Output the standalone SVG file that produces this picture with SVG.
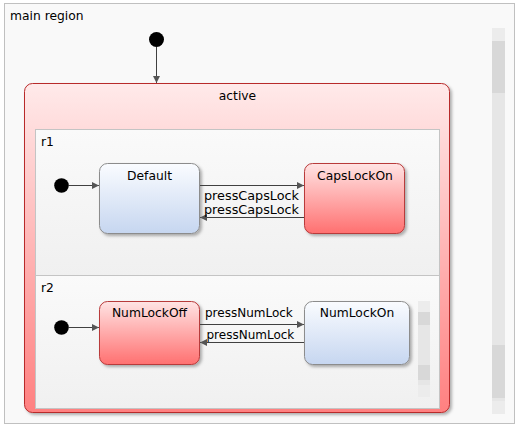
<svg xmlns="http://www.w3.org/2000/svg" width="519" height="428" viewBox="0 0 519 428">
<defs>
<style>
text{font-family:"DejaVu Sans","Liberation Sans",sans-serif;font-size:12.3px;fill:#000}
.c{text-anchor:middle}
.edge{stroke:#404040;stroke-width:1;fill:none}
.init{fill:#000}
.reg{fill:url(#gReg);stroke:#c4c4c4;stroke-width:1}
.red{fill:url(#gRed);stroke:#b83a3a;stroke-width:1}
.blue{fill:url(#gBlue);stroke:#8c8c8c;stroke-width:1}
.sbt{fill:#e6e6e6}
.sbd{fill:#d8d8d8}
.sbb{fill:#ececec}
.lbl{font-size:12px}
</style>
<linearGradient id="gRed" x1="0" y1="0" x2="0" y2="1">
<stop offset="0" stop-color="#ffe4e4"/>
<stop offset="1" stop-color="#ff7070"/>
</linearGradient>
<linearGradient id="gActive" x1="0" y1="0" x2="0" y2="1">
<stop offset="0" stop-color="#ffeaea"/>
<stop offset="1" stop-color="#ff8080"/>
</linearGradient>
<linearGradient id="gBlue" x1="0" y1="0" x2="0" y2="1">
<stop offset="0" stop-color="#fafcff"/>
<stop offset="1" stop-color="#c6d6f0"/>
</linearGradient>
<linearGradient id="gReg" x1="0" y1="0" x2="0" y2="1">
<stop offset="0" stop-color="#fafafa"/>
<stop offset="1" stop-color="#f0f0f0"/>
</linearGradient>
<filter id="sh" x="-10%" y="-10%" width="130%" height="130%">
<feDropShadow dx="2" dy="2" stdDeviation="1.5" flood-color="#000" flood-opacity="0.3"/>
</filter>
<marker id="arr" viewBox="0 0 10 10" refX="10" refY="5" markerWidth="8" markerHeight="7" markerUnits="userSpaceOnUse" orient="auto">
<path d="M0,0 L10,5 L0,10 z" fill="#555"/>
</marker>
</defs>
<rect width="519" height="428" fill="#fff"/>
<g id="main-region">
<rect x="4.5" y="3.5" width="510" height="420" fill="#f9f9f9" stroke="#c0c0c0"/>
<text x="10" y="20">main region</text>
<rect class="sbt" x="492" y="28" width="13" height="386"/>
<rect class="sbb" x="492" y="28" width="13" height="13"/>
<rect class="sbd" x="492" y="41" width="13" height="52"/>
<rect class="sbd" x="492" y="345" width="13" height="53"/>
<rect class="sbb" x="492" y="401" width="13" height="13"/>
</g>
<g id="active">
<rect x="24.5" y="83.5" width="425" height="329" rx="8" fill="url(#gActive)" stroke="#b82a2a" filter="url(#sh)"/>
<text class="c" x="237.5" y="100">active</text>
</g>
<g id="r1">
<rect class="reg" x="35.5" y="129.5" width="404" height="146"/>
<text x="41" y="146">r1</text>
</g>
<g id="r2">
<rect class="reg" x="35.5" y="275.5" width="404" height="133"/>
<text x="41" y="292">r2</text>
<rect class="sbt" x="418" y="301" width="12" height="96"/>
<rect class="sbb" x="418" y="301" width="12" height="11"/>
<rect class="sbd" x="418" y="312" width="12" height="13"/>
<rect class="sbd" x="418" y="365" width="12" height="15"/>
<rect class="sbb" x="418" y="385" width="12" height="12"/>
</g>
<g id="init-main"><circle class="init" cx="156.5" cy="39.5" r="7.5"/></g>
<g id="init-r1"><circle class="init" cx="61.5" cy="185.5" r="7.3"/></g>
<g id="init-r2"><circle class="init" cx="61.5" cy="327.5" r="7.3"/></g>
<g id="Default">
<rect class="blue" x="99.5" y="163.5" width="100" height="70" rx="8" filter="url(#sh)"/>
<text class="c" x="149.5" y="180">Default</text>
</g>
<g id="CapsLockOn">
<rect class="red" x="304.5" y="163.5" width="100" height="70" rx="8" filter="url(#sh)"/>
<text class="c" x="355" y="180">CapsLockOn</text>
</g>
<g id="NumLockOff">
<rect class="red" x="99.5" y="301.5" width="100" height="63" rx="8" filter="url(#sh)"/>
<text class="c" x="149.5" y="317">NumLockOff</text>
</g>
<g id="NumLockOn">
<rect class="blue" x="304.5" y="301.5" width="105" height="63" rx="8" filter="url(#sh)"/>
<text class="c" x="357" y="317">NumLockOn</text>
</g>
<g id="connectors">
<path class="edge" d="M156.5,47 V83" marker-end="url(#arr)"/>
<path class="edge" d="M69,185.5 H99" marker-end="url(#arr)"/>
<path class="edge" d="M69,327.5 H99" marker-end="url(#arr)"/>
<path class="edge" d="M200,185.5 H304" marker-end="url(#arr)"/>
<path class="edge" d="M304,217.5 H200" marker-end="url(#arr)"/>
<path class="edge" d="M200,324.5 H304" marker-end="url(#arr)"/>
<path class="edge" d="M304,342.5 H200" marker-end="url(#arr)"/>
<text class="lbl" x="204" y="200" textLength="95" lengthAdjust="spacingAndGlyphs">pressCapsLock</text>
<text class="lbl" x="204" y="213.5" textLength="95" lengthAdjust="spacingAndGlyphs">pressCapsLock</text>
<text class="lbl" x="205" y="317">pressNumLock</text>
<text class="lbl" x="206.5" y="338.5">pressNumLock</text>
</g>
</svg>
